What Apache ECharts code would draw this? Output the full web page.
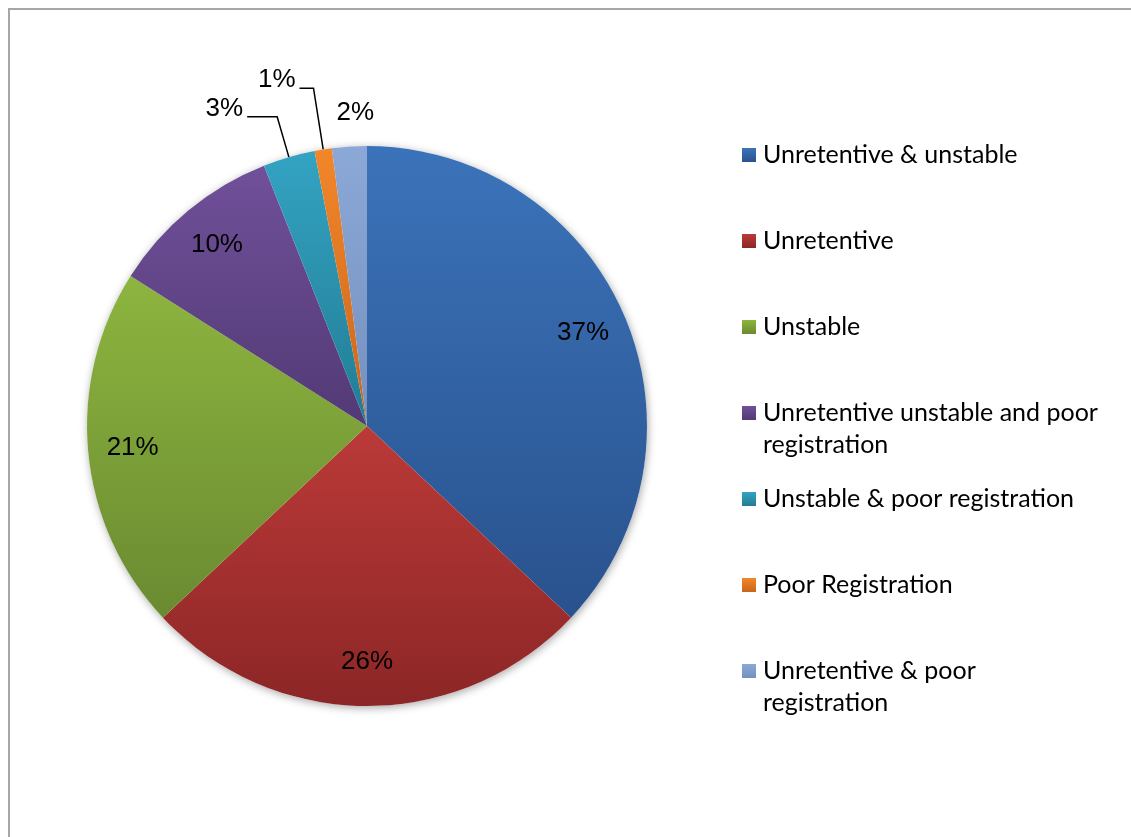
<!DOCTYPE html>
<html>
<head>
<meta charset="utf-8">
<script src="https://cdn.jsdelivr.net/npm/echarts@6/dist/echarts.min.js"></script>
<style>
  html, body { margin: 0; padding: 0; background: #fff; }
  #frame {
    position: absolute; left: 8px; top: 8px; width: 1123px; height: 829px;
    border-left: 2px solid #a6a6a6; border-top: 2px solid #a6a6a6;
  }
  #chart { position: absolute; left: 0; top: 0; width: 1131px; height: 837px; }
</style>
</head>
<body>
<div id="frame"></div>
<div id="chart"></div>
<script>
// Causes of failure, share of cases (%)
const categories = [
  'Unretentive & unstable',
  'Unretentive',
  'Unstable',
  'Unretentive unstable and poor registration',
  'Unstable & poor registration',
  'Poor Registration',
  'Unretentive & poor registration'
];
const shares = [37, 26, 21, 10, 3, 1, 2];

// Top and bottom tones of each slice's vertical shading
const topColors = ['#3b73ba', '#bb3a38', '#8db53f', '#70509a', '#33a3c2', '#f2862a', '#8ba8d6'];
const bottomColors = ['#29528d', '#8c2626', '#6a8a31', '#523a75', '#227c95', '#c9661c', '#7390bf'];

const smallSlices = new Set([4, 5, 6]);

const grad = (i) => new echarts.graphic.LinearGradient(0, 0, 0, 1, [
  { offset: 0, color: topColors[i] },
  { offset: 1, color: bottomColors[i] }
]);

const CENTER = [367, 426];
const RADIUS = 280;
const LABEL_FONT = { fontFamily: 'Liberation Sans, Arial, sans-serif', fontSize: 26, color: '#000' };

// Legend entries: a colour box, then the name wrapped onto a second line when long
const WRAP = 29;
function wrapName(name) {
  if (name.length <= WRAP) return [name, ''];
  const words = name.split(' ');
  let first = '';
  let i = 0;
  while (i < words.length && (first + (first ? ' ' : '') + words[i]).length <= WRAP) {
    first += (first ? ' ' : '') + words[i];
    i++;
  }
  return [first, words.slice(i).join(' ')];
}
const rich = {
  t: { fontFamily: 'Lato, Open Sans, sans-serif', fontSize: 25, color: '#000', padding: [0, 0, 0, 7], lineHeight: 32 },
  s: { width: 14, height: 14, lineHeight: 32 }
};
categories.forEach((c, i) => {
  rich['m' + i] = { width: 14, height: 14, backgroundColor: grad(i), lineHeight: 32 };
});

const mainData = categories.map((name, i) => {
  const item = { name, value: shares[i], itemStyle: { color: grad(i) } };
  if (!smallSlices.has(i)) {
    item.label = { show: false };
    item.labelLine = { show: false };
  }
  return item;
});
// per-slice leader line lengths for the small outside labels
mainData[4].labelLine = { show: true, length: 42, length2: 30 };
mainData[5].labelLine = { show: true, length: 62, length2: 14 };
mainData[6].labelLine = { show: false, length: 20, length2: 0 };

const innerLabelData = categories.map((name, i) => ({
  name, value: shares[i],
  label: { show: !smallSlices.has(i) }
}));

const chart = echarts.init(document.getElementById('chart'), null, { renderer: 'canvas' });
chart.setOption({
  animation: false,
  backgroundColor: 'transparent',
  legend: {
    orient: 'vertical',
    left: 732,
    top: 134,
    icon: 'none',
    itemWidth: 0,
    itemHeight: 14,
    itemGap: 22,
    selectedMode: false,
    data: categories,
    textStyle: { rich, lineHeight: 32 },
    formatter: (name) => {
      const i = categories.indexOf(name);
      const [a, b] = wrapName(name);
      return '{m' + i + '|}{t|' + a + '}\n{s|}{t|' + b + '}';
    }
  },
  series: [
    {
      // soft drop shadow under the whole pie
      type: 'pie',
      silent: true,
      center: CENTER,
      radius: [0, RADIUS],
      z: 1,
      label: { show: false },
      labelLine: { show: false },
      itemStyle: {
        color: '#fff',
        shadowBlur: 8,
        shadowColor: 'rgba(0,0,0,0.35)',
        shadowOffsetX: 1,
        shadowOffsetY: 2
      },
      data: [{ name: 'total', value: shares.reduce((a, b) => a + b, 0) }]
    },
    {
      type: 'pie',
      center: CENTER,
      radius: [0, RADIUS],
      startAngle: 90,
      clockwise: true,
      avoidLabelOverlap: false,
      z: 2,
      label: {
        show: true,
        position: 'outside',
        formatter: '{d}%',
        distanceToLabelLine: 4,
        ...LABEL_FONT
      },
      labelLine: { show: true, lineStyle: { color: '#000', width: 1.5 } },
      labelLayout: (p) => (p.dataIndex === 6 ? { dx: 30, dy: -14 } : p.dataIndex === 4 ? { dy: -8 } : p.dataIndex === 5 ? { dy: -8 } : {}),
      itemStyle: { borderWidth: 0 },
      emphasis: { disabled: true },
      data: mainData
    },
    {
      // carries the in-slice percentage labels at about 0.83 of the radius
      type: 'pie',
      silent: true,
      center: CENTER,
      radius: [0, RADIUS * 1.66],
      startAngle: 90,
      clockwise: true,
      z: 3,
      itemStyle: { color: 'rgba(0,0,0,0)' },
      label: { show: true, position: 'inside', formatter: '{d}%', ...LABEL_FONT },
      labelLine: { show: false },
      emphasis: { disabled: true },
      data: innerLabelData
    }
  ]
});
</script>
</body>
</html>
